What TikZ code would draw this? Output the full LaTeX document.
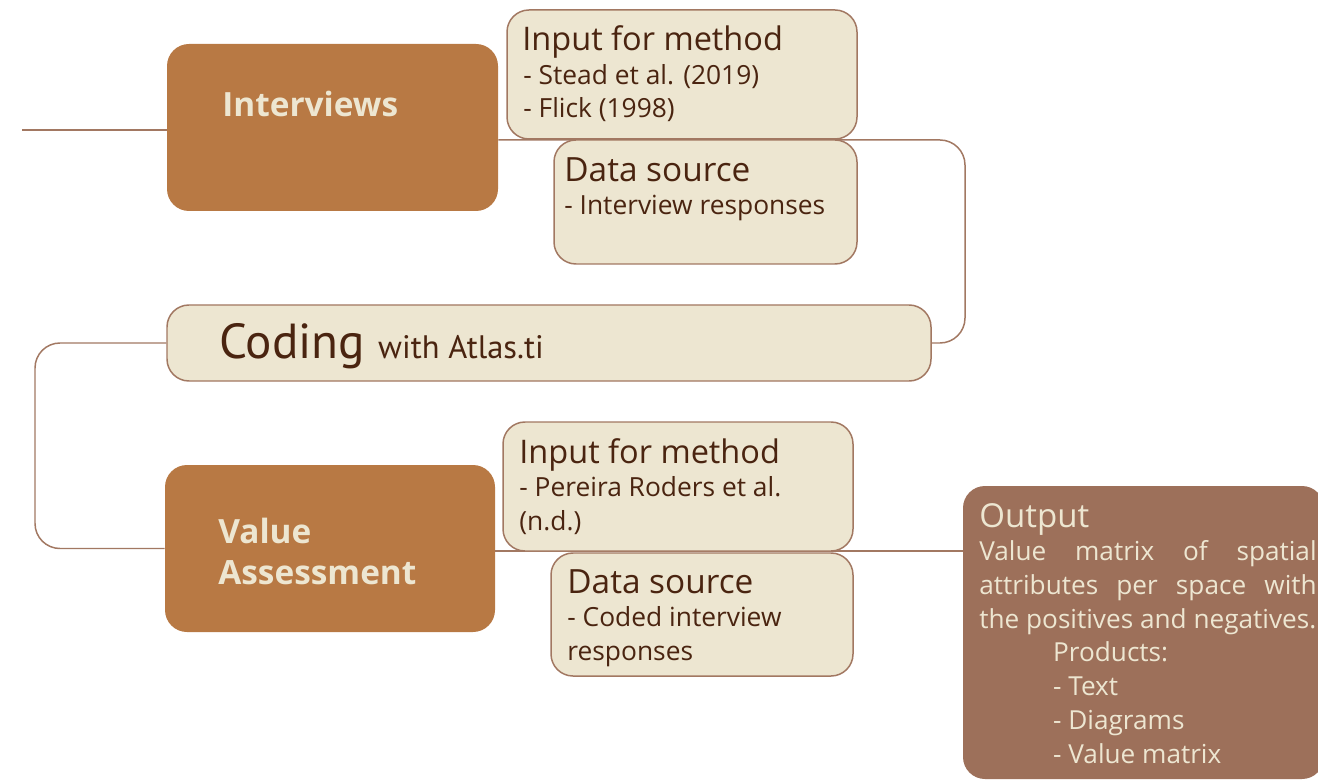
\documentclass[tikz,border=0pt]{standalone}
\usepackage{fontspec}
\setmainfont{Open Sans}
\newfontfamily\codfont{PT Sans}
\usetikzlibrary{fit}
\definecolor{clay}{HTML}{B87944}
\definecolor{sand}{HTML}{EDE6D1}
\definecolor{edge}{HTML}{A27862}
\definecolor{ink}{HTML}{4A2410}
\definecolor{umber}{HTML}{9D705A}
\tikzset{
    stage/.style={fill=clay, rounded corners=0.44cm, inner sep=0pt},
    note/.style={fill=sand, draw=edge, line width=0.85pt, rounded corners=0.44cm, inner sep=0pt},
    link/.style={draw=edge, line width=0.85pt, rounded corners=0.5cm},
    head/.style={anchor=base west, inner sep=0pt, text=ink, font=\fontsize{18.5}{22}\selectfont},
    body/.style={anchor=base west, inner sep=0pt, text=ink, align=left, font=\fontsize{15}{18.8}\selectfont},
    title/.style={anchor=base west, inner sep=0pt, text=sand, align=left, font=\fontsize{19}{24}\selectfont\bfseries}
}
\begin{document}
\begin{tikzpicture}[x=0.02cm, y=-0.02cm]
        \useasboundingbox (0, 0) rectangle (1318, 780);
        % Boxes
        \node [stage, fit={(167, 44) (498, 211)}] (intv) {};
        \node [stage, fit={(165, 465) (495, 632)}] (val) {};
        \node [note, fit={(167, 305) (931, 381)}] (cod) {};
        \node [stage, fill=umber, fit={(963, 486) (1324, 779)}] (out) {};
        % Lines
        \coordinate (start) at (22, 130);
        \coordinate (rt) at (965, 0);
        \coordinate (lf) at (35, 0);
        \draw [link] (start) -- (start -| intv.west);
        \draw [link] (intv.east |- 0, 140) -- (rt |- 0, 140) -- (rt |- cod.east) -- (cod.east);
        \draw [link] (cod.west) -- (lf |- cod.west) -- (lf |- val.west) -- (val.west);
        \draw [link] (val.east |- 0, 551) -- (out.west |- 0, 551);
        % Side notes
        \node [note, fit={(507, 10) (857, 139)}] (in1) {};
        \node [note, fit={(554, 140) (857, 264)}] (ds1) {};
        \node [note, fit={(503, 422) (853, 551)}] (in2) {};
        \node [note, fit={(551, 553) (853, 676)}] (ds2) {};
        % Texts (multi-line nodes sit on their last line)
        \node [title] (intvt) at (222, 117) {Interviews};
        \node [title] (valt) at (218, 584) {Value\\[-1pt]Assessment};
        \node [head] (in1t) at (522, 51) {Input for method};
        \node [body] (in1b) at (523, 118) {- Stead et al. (2019)\\- Flick (1998)};
        \node [head, font=\fontsize{19}{22}\selectfont] (ds1t) at (564, 182) {Data source};
        \node [body] (ds1b) at (564, 215) {- Interview responses};
        \node [head] (in2t) at (519, 463) {Input for method};
        \node [body] (in2b) at (519, 530) {- Pereira Roders et al.\\(n.d.)};
        \node [head, font=\fontsize{19}{22}\selectfont] (ds2t) at (567, 593) {Data source};
        \node [body] (ds2b) at (567, 660) {- Coded interview\\responses};
        \node [anchor=base west, inner sep=0pt, text=ink] (codt) at (219, 358)
            {\codfont\fontsize{28}{34}\selectfont Coding \fontsize{18.5}{24}\selectfont with Atlas.ti};
        \node [anchor=base west, inner sep=0pt, text=sand, font=\fontsize{18.8}{21}\selectfont] (outt) at (979, 527) {Output};
        \node [anchor=base west, inner sep=0pt, text=sand, align=left, font=\fontsize{14.9}{19.2}\selectfont] (outb) at (979, 763)
            {\hbox to 192pt{Value\hfill matrix\hfill of\hfill spatial}\\
             \hbox to 192pt{attributes\hfill per\hfill space\hfill with}\\
             the positives and negatives.\\
             \hspace*{42pt}Products:\\
             \hspace*{42pt}- Text\\
             \hspace*{42pt}- Diagrams\\
             \hspace*{42pt}- Value matrix};
    \end{tikzpicture}
\end{document}
